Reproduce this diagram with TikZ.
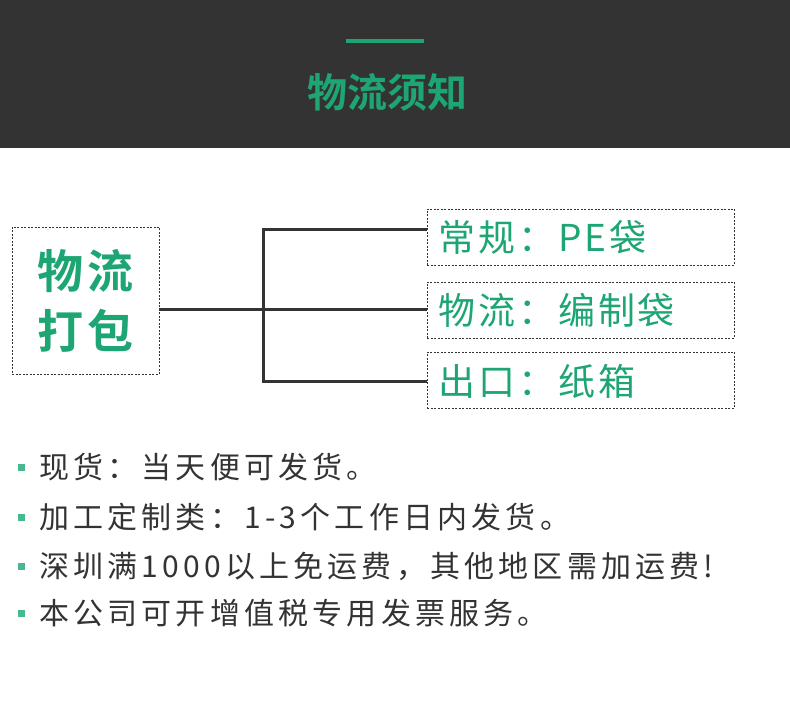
\documentclass[tikz,border=0pt]{standalone}
\usepackage{fontspec}
\setmainfont{Noto Sans CJK SC}
\newfontfamily\cjkb{Noto Sans CJK SC Bold}
\definecolor{hdr}{HTML}{333333}
\definecolor{grn}{HTML}{1DA673}
\definecolor{txt}{HTML}{333333}
\tikzset{
  dbox/.style={draw=hdr, dashed, line width=0.6pt, dash pattern=on 2pt off 1.5pt},
  conn/.style={draw=hdr, line width=3pt},
  opt/.style={anchor=west, text=grn, font=\fontsize{37}{40}\selectfont\addfontfeature{LetterSpace=8}, inner sep=0},
  bul/.style={anchor=west, text=txt, font=\fontsize{30}{32}\selectfont\addfontfeature{LetterSpace=14}, inner sep=0},
  sq/.style={fill=grn!80!white, minimum size=7pt, inner sep=0}
}
\begin{document}
\begin{tikzpicture}[x=1pt,y=-1pt]
\useasboundingbox (0,0) rectangle (790,727);
\fill[hdr] (0,0) rectangle (790,148);
\draw[grn, line width=4pt] (346,41) -- (424,41);
\node[text=grn, font=\cjkb\fontsize{40}{44}\selectfont] (title) at (387,92) {物流须知};
\node[dbox, minimum width=147pt, minimum height=147pt, align=center, text=grn, font=\cjkb\fontsize{46}{60}\selectfont\addfontfeature{LetterSpace=8}] (pk) at (85.5,300.5) {物流\\打包};
\node[dbox, minimum width=307pt, minimum height=56pt] (b1) at (580.5,237) {};
\node[dbox, minimum width=307pt, minimum height=56pt] (b2) at (580.5,310) {};
\node[dbox, minimum width=307pt, minimum height=56pt] (b3) at (580.5,380) {};
\node[opt] (t1) at (438,237) {常规：PE袋};
\node[opt] (t2) at (438,310) {物流：编制袋};
\node[opt] (t3) at (438,381) {出口：纸箱};
\coordinate (j) at (263,310);
\draw[conn] (pk.east |- j) -- (b2.west);
\draw[conn] (b1.west |- 0,230) -- (263,230) -- (263,381) -- (b3.west |- 0,381);
\foreach \y/\t [count=\i] in {467/现货：当天便可发货。,517/加工定制类：1-3个工作日内发货。,566/深圳满1000以上免运费，其他地区需加运费!,613/本公司可开增值税专用发票服务。}{
  \node[sq] (s\i) at (21,\y) {};
  \node[bul] (l\i) at (39,\y) {\t};
}
\end{tikzpicture}
\end{document}
